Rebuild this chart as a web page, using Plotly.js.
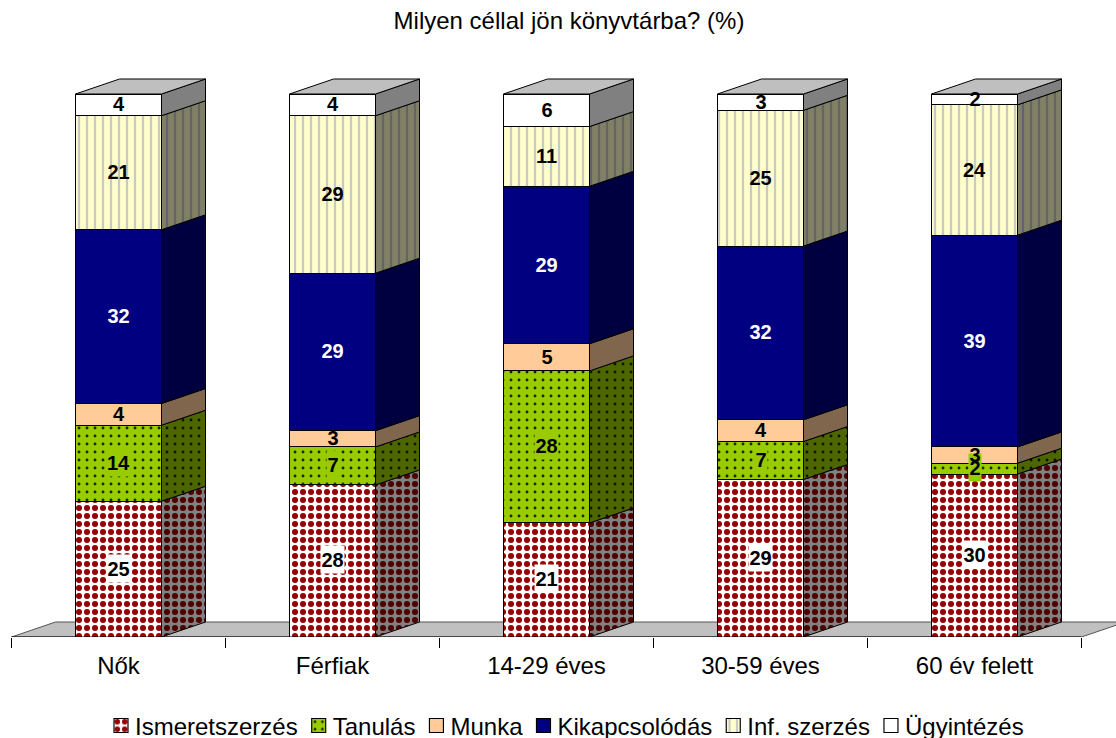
<!DOCTYPE html>
<html><head><meta charset="utf-8">
<script src="https://cdn.plot.ly/plotly-3.0.1.min.js"></script>
<style>html,body{margin:0;padding:0;background:#fff}</style>
</head><body><div id="chart" style="width:1116px;height:738px"></div>
<script>
var categories = ['Nők','Férfiak','14-29 éves','30-59 éves','60 év felett'];
var ismeretszerzes = [25,28,21,29,30];
var tanulas        = [14,7,28,7,2];
var munka          = [4,3,5,4,3];
var kikapcsolodas  = [32,29,29,32,39];
var infSzerzes     = [21,29,11,25,24];
var ugyintezes     = [4,4,6,3,2];
var title = 'Milyen céllal jön könyvtárba? (%)';

var seriesDefs = [
 {name:'Ismeretszerzés', v:ismeretszerzes, bg:'#ffffff', fg:'#990000', shape:'.', size:8, sol:0.45, sbg:'#808080', sfg:'#4d0000', label:'#000', lbg:'#ffffff'},
 {name:'Tanulás', v:tanulas, bg:'#99cc00', fg:'#1a2600', shape:'.', size:8, sol:0.1, sbg:'#4d6600', sfg:'#0d1300', label:'#000', lbg:'#99cc00'},
 {name:'Munka', v:munka, bg:'#ffcc99', sbg:'#80664d', label:'#000'},
 {name:'Kikapcsolódás', v:kikapcsolodas, bg:'#000080', sbg:'#000040', label:'#fff'},
 {name:'Inf. szerzés', v:infSzerzes, bg:'#ffffcc', fg:'#c8c8c8', shape:'|', size:8, sol:0.28, sbg:'#808066', sfg:'#646464', label:'#000'},
 {name:'Ügyintézés', v:ugyintezes, bg:'#ffffff', sbg:'#808080', label:'#000'}
];

// geometry of the fake depth, expressed in pixels and converted to axis units
var W=1116,H=738, plotL=11, baseY=637, pxPerCat=214, firstCenter=118.5, pxPerUnit=5.43, barPx=86, depthPx=44, risePx=15;
var xMin=(plotL-firstCenter)/pxPerCat, xMax=(W-firstCenter)/pxPerCat, yMax=baseY/pxPerUnit;
var barW=barPx/pxPerCat, dx=depthPx/pxPerCat, dy=risePx/pxPerUnit;
var FONT='"Liberation Sans", Arial, sans-serif';
var idx=categories.map(function(_,i){return i;});

var traces=[], annotations=[], base=idx.map(function(){return 0;});
seriesDefs.forEach(function(s){
  var m={color:s.bg, line:{color:'#000',width:1}};
  if(s.shape) m.pattern={shape:s.shape,bgcolor:s.bg,fgcolor:s.fg,size:s.size,solidity:s.sol,fillmode:'replace'};
  traces.push({type:'bar',name:s.name,x:idx,y:s.v,width:barW,marker:m,hoverinfo:'name+y',showlegend:true});
  // side face
  var sx=[],sy=[];
  idx.forEach(function(i){
    var r=i+barW/2, b=base[i], t=b+s.v[i];
    sx.push(r,r+dx,r+dx,r,r,null); sy.push(b,b+dy,t+dy,t,b,null);
    annotations.push({x:i,y:b+s.v[i]/2,xref:'x',yref:'y',yshift:1,text:String(s.v[i]),showarrow:false,
      font:{family:FONT,size:20,color:s.label,weight:700},
      bgcolor:s.lbg||'rgba(0,0,0,0)',width:String(s.v[i]).length*11+1,height:27,borderpad:0,align:'center',valign:'middle'});
    base[i]=t;
  });
  var side={type:'scatter',mode:'lines',x:sx,y:sy,fill:'toself',fillcolor:s.sbg,line:{color:'#000',width:1},hoverinfo:'skip',showlegend:false};
  if(s.shape) side.fillpattern={shape:s.shape,bgcolor:s.sbg,fgcolor:s.sfg,size:s.size,solidity:s.sol,fillmode:'replace'};
  traces.push(side);
});
// top faces
var tx=[],ty=[];
idx.forEach(function(i){
  var l=i-barW/2,r=i+barW/2,t=base[i];
  tx.push(l,l+dx,r+dx,r,l,null); ty.push(t,t+dy,t+dy,t,t,null);
});
traces.push({type:'scatter',mode:'lines',x:tx,y:ty,fill:'toself',fillcolor:'#bfbfbf',line:{color:'#000',width:1},hoverinfo:'skip',showlegend:false});
// baseline of the category axis
traces.push({type:'scatter',mode:'lines',x:[-0.5,4.5],y:[0,0],line:{color:'#000',width:1},hoverinfo:'skip',showlegend:false});
// invisible trace so the boundary-tick axis exists
traces.push({type:'scatter',mode:'markers',x:[0],y:[0],xaxis:'x2',marker:{opacity:0},hoverinfo:'skip',showlegend:false});

var floor={type:'path',layer:'below',xref:'x',yref:'y',
  path:'M -0.5 0 L '+(-0.5+dx)+' '+dy+' L '+(4.5+dx)+' '+dy+' L 4.5 0 Z',
  fillcolor:'#c0c0c0',line:{color:'#555555',width:1}};

var boundaries=[-0.5,0.5,1.5,2.5,3.5,4.5];
var layout={
  width:W,height:H,autosize:false,paper_bgcolor:'#fff',plot_bgcolor:'rgba(0,0,0,0)',
  font:{family:FONT,size:24,color:'#000'},
  margin:{l:plotL,r:0,t:0,b:H-baseY,pad:0},
  barmode:'stack',bargap:0,
  title:{text:title,x:569/W,xref:'container',xanchor:'center',y:1-21/H,yref:'container',yanchor:'middle',font:{family:FONT,size:24,color:'#000'}},
  xaxis:{type:'linear',range:[xMin,xMax],tickmode:'array',tickvals:idx,ticktext:categories,ticks:'outside',ticklen:7,tickcolor:'rgba(0,0,0,0)',showgrid:false,zeroline:false,showline:false,fixedrange:true,tickfont:{family:FONT,size:24,color:'#000'}},
  xaxis2:{type:'linear',overlaying:'x',side:'bottom',anchor:'y',range:[xMin,xMax],tickmode:'array',tickvals:boundaries,ticktext:boundaries.map(function(){return '';}),ticks:'outside',ticklen:10,tickwidth:1,tickcolor:'#000',showgrid:false,zeroline:false,showline:false,fixedrange:true},
  yaxis:{range:[0,yMax],visible:false,fixedrange:true},
  shapes:[floor],
  annotations:annotations,
  showlegend:true,
  legend:{orientation:'h',x:0.5,xref:'container',xanchor:'center',y:1-726/H,yref:'container',yanchor:'middle',traceorder:'normal',bgcolor:'rgba(0,0,0,0)',font:{family:FONT,size:24,color:'#000'}},
  hovermode:false
};
Plotly.newPlot('chart',traces,layout,{displayModeBar:false,staticPlot:true}).then(function(gd){
  // tighten the native legend keys to the reference's spacing
  var lg=gd.querySelector('.legend'); if(!lg) return;
  var mt=/translate\(([-\d.]+)[ ,]*([-\d.]+)?/.exec(lg.getAttribute('transform')||'');
  var lx=mt?+mt[1]:0, ly=mt?+(mt[2]||0):0;
  var cursor=114, midY=725.5, s=14/12;
  lg.querySelectorAll('.traces').forEach(function(g){
    var text=g.querySelector('.legendtext'), pts=g.querySelector('.legendpoints'), w=text.getComputedTextLength();
    g.setAttribute('transform','translate('+(cursor-lx)+','+(midY-ly)+')');
    if(pts) pts.setAttribute('transform','translate('+(7-20*s)+',0) scale('+s+')');
    text.setAttribute('x',21);
    cursor+=21+w+14;
  });
  var clip=lg.querySelector('.scrollbox'); if(clip) clip.removeAttribute('clip-path');
  lg.removeAttribute('clip-path');
});
</script></body></html>
